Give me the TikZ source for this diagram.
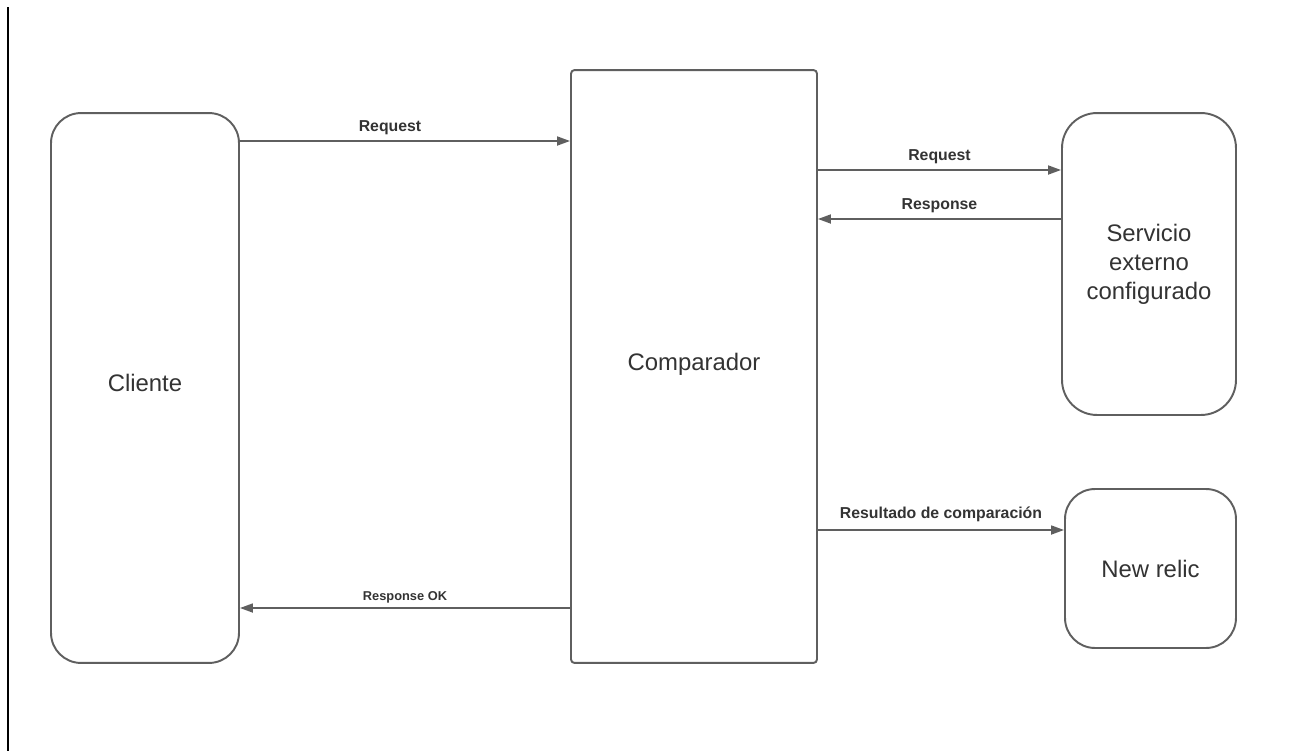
\documentclass[tikz,border=0pt]{standalone}
\usepackage{fontspec}
\setmainfont{Liberation Sans}
\usepackage{tikz}
\usetikzlibrary{arrows.meta}
\definecolor{linea}{HTML}{5F5F5F}
\definecolor{testo}{HTML}{333333}

\begin{document}
\begin{tikzpicture}[
            x=0.02cm, y=-0.02cm,
            box/.style={draw=linea, line width=1.1pt, fill=white,
                    text=testo, font=\fontsize{13.6}{16.5}\selectfont,
                    align=center, inner sep=0pt},
            flow/.style={draw=linea, line width=1pt,
                    -{Triangle[length=2.6mm, width=1.8mm]}},
            lab/.style={text=testo, font=\fontsize{9}{10}\selectfont\bfseries,
                    above, inner sep=3pt}
        ]
        \useasboundingbox (0,0) rectangle (1296,751);
        % linea verticale a sinistra
        \draw[black, line width=1pt] (8,7) -- (8,751);

        % Coordinate assolute (in pixel)
        \node[box, rounded corners=0.6cm, minimum width=3.76cm, minimum height=11cm,
            text height=0.35cm, text depth=0.21cm]
            (cli) at (145,388) {Cliente};
        \node[box, rounded corners=2pt, minimum width=4.92cm, minimum height=11.86cm,
            text height=0.35cm, text depth=0.21cm]
            (comp) at (694,366.5) {Comparador};
        \node[box, rounded corners=0.7cm, minimum width=3.48cm, minimum height=6.04cm]
            (serv) at (1149,264) {Servicio\\externo\\configurado};
        \node[box, rounded corners=0.6cm, minimum width=3.42cm, minimum height=3.18cm]
            (nr) at (1150.5,568.5) {New relic};

        \draw[flow] (cli.east |- 0,141) -- (comp.west |- 0,141)
        node[lab, midway, xshift=-0.3cm] {Request};
        \draw[flow] (comp.east |- 0,170) -- (serv.west |- 0,170)
        node[lab, midway] {Request};
        \draw[flow] (serv.west |- 0,219) -- (comp.east |- 0,219)
        node[lab, midway] {Response};
        \draw[flow] (comp.east |- 0,530) -- (nr.west |- 0,530)
        node[lab, midway, inner sep=4pt] {Resultado de comparación};
        \draw[flow] (comp.west |- 0,608) -- (cli.east |- 0,608)
        node[lab, midway, font=\fontsize{7.3}{8}\selectfont\bfseries, inner sep=2pt]
        {Response OK};
    \end{tikzpicture}
\end{document}
